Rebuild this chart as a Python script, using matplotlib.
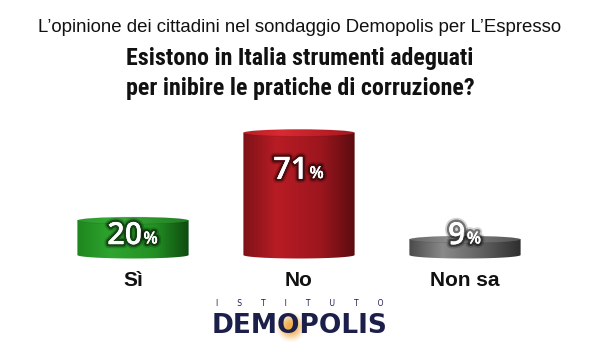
import numpy as np
import matplotlib
matplotlib.use('Agg')
import matplotlib.pyplot as plt
from matplotlib.path import Path
from matplotlib.patches import PathPatch, Ellipse, Circle
import matplotlib.patheffects as pe
from matplotlib.colors import LinearSegmentedColormap

# ---------------- data ----------------
categories = ['Sì', 'No', 'Non sa']
values = [20, 71, 9]
value_labels = ['20', '71', '9']
subtitle = "L’opinione dei cittadini nel sondaggio Demopolis per L’Espresso"
title_lines = ["Esistono in Italia strumenti adeguati",
               "per inibire le pratiche di corruzione?"]
logo_small = "I        S        T        I        T        U        T        O"
logo_big = "DEMOPOLIS"

# ---------------- style ----------------
body_palettes = [
    ['#1e861e', '#2ea52e', '#238f23', '#0e4a10'],
    ['#7e1218', '#b81c24', '#9c161e', '#5a0c10'],
    ['#4a4a4a', '#8a8a8a', '#5a5a5a', '#2e2e2e'],
]
top_palettes = [
    ['#289828', '#3aaa3a', '#207f20'],
    ['#c01c24', '#d82a32', '#a8161e'],
    ['#666666', '#8c8c8c', '#555555'],
]

W, H = 600, 363
fig = plt.figure(figsize=(W / 100, H / 100), dpi=100)
fig.patch.set_facecolor('white')

k = 1.72            # pixels per percentage point
ymin = -12
bottom_px = 255 + (-ymin) * k
ax = fig.add_axes([50 / W, (H - bottom_px) / H, 498 / W, (100 - ymin) * k / H])
ax.set_xlim(-0.5, 2.5)
ax.set_ylim(ymin, 100)
ax.axis('off')

bar_w = 0.67
eh = 7.0 / k  # ellipse height in data units
x = np.arange(len(categories))
bars = ax.bar(x, values, width=bar_w, color='none', edgecolor='none')

grad = np.linspace(0, 1, 256).reshape(1, -1)
for i, (rect, v) in enumerate(zip(bars, values)):
    x0 = rect.get_x()
    w = rect.get_width()
    xc = x0 + w / 2
    h = rect.get_height()
    t = np.linspace(np.pi, 2 * np.pi, 60)
    xs = list(xc + w / 2 * np.cos(t)) + [x0 + w, x0]
    ys = list(eh / 2 * np.sin(t)) + [h, h]
    verts = list(zip(xs, ys)) + [(xs[0], ys[0])]
    codes = [Path.MOVETO] + [Path.LINETO] * (len(verts) - 2) + [Path.CLOSEPOLY]
    body = PathPatch(Path(verts, codes), facecolor='none', edgecolor='none')
    ax.add_patch(body)
    cmap = LinearSegmentedColormap.from_list(
        'b%d' % i, list(zip([0, 0.3, 0.7, 1.0], body_palettes[i])))
    im = ax.imshow(grad, cmap=cmap, extent=(x0, x0 + w, -eh, h),
                   aspect='auto', zorder=2, interpolation='bicubic')
    im.set_clip_path(body)

    top = Ellipse((xc, h), w, eh, facecolor='none', edgecolor='none')
    ax.add_patch(top)
    cmap2 = LinearSegmentedColormap.from_list(
        't%d' % i, list(zip([0, 0.35, 1.0], top_palettes[i])))
    im2 = ax.imshow(grad, cmap=cmap2, extent=(x0, x0 + w, h - eh, h + eh),
                    aspect='auto', zorder=3, interpolation='bicubic')
    im2.set_clip_path(top)
    ax.add_patch(Ellipse((xc, h), w, eh, facecolor='none',
                         edgecolor=(0, 0, 0, 0.12), lw=0.5, zorder=3.5))

# value labels
fx = [pe.withStroke(linewidth=6, foreground=(0, 0, 0, 0.18)),
      pe.withStroke(linewidth=3.5, foreground=(0, 0, 0, 0.45)),
      pe.Normal()]
for i, v in enumerate(values):
    ty = max(v - 22, 11)
    tnum = ax.annotate(value_labels[i], xy=(x[i], ty), xytext=(-6, 0),
                       textcoords='offset points', ha='center', va='center',
                       fontsize=22, fontweight='semibold', family='Open Sans',
                       color='white', zorder=5, path_effects=fx,
                       annotation_clip=False)
    ax.annotate('%', xy=(1.0, 0.12), xycoords=tnum, xytext=(1, 0),
                textcoords='offset points', ha='left', va='bottom',
                fontsize=12, fontweight='semibold', family='Open Sans',
                color='white', zorder=5, path_effects=fx)

# category labels
for i, c in enumerate(categories):
    ax.text(x[i], ymin - 3, c, ha='center', va='center', fontsize=15,
            fontweight='bold', family='Liberation Sans', color='#111111',
            clip_on=False)

# titles
fig.text(0.5, 1 - 28 / H, subtitle, ha='center', va='center', fontsize=13.4,
         family='Liberation Sans', color='#111111')
tfam = ['Roboto Condensed', 'Liberation Sans']
fig.text(0.5, 1 - 58 / H, title_lines[0], ha='center', va='center',
         fontsize=17.3, fontweight='heavy', family=tfam, color='#111111')
fig.text(0.5, 1 - 89 / H, title_lines[1], ha='center', va='center',
         fontsize=17.3, fontweight='heavy', family=tfam, color='#111111')

# logo
lax = fig.add_axes([0, 0, 1, 1], zorder=-1)
lax.set_xlim(0, W)
lax.set_ylim(H, 0)
lax.axis('off')
for r, a in zip(np.linspace(15, 4, 8), np.linspace(0.07, 0.35, 8)):
    lax.add_patch(Circle((291, 327), r, color='#f0a030', alpha=a, lw=0))
fig.text(300 / W, 1 - 303 / H, logo_small, ha='center', va='center',
         fontsize=5.5, family='DejaVu Sans', color='#1c1f4a')
fig.text(300 / W, 1 - 326 / H, logo_big, ha='center', va='center',
         fontsize=19, fontweight='heavy', family='DejaVu Sans',
         color='#1c1f4a')

fig.savefig('out.png', dpi=100, facecolor='white')
